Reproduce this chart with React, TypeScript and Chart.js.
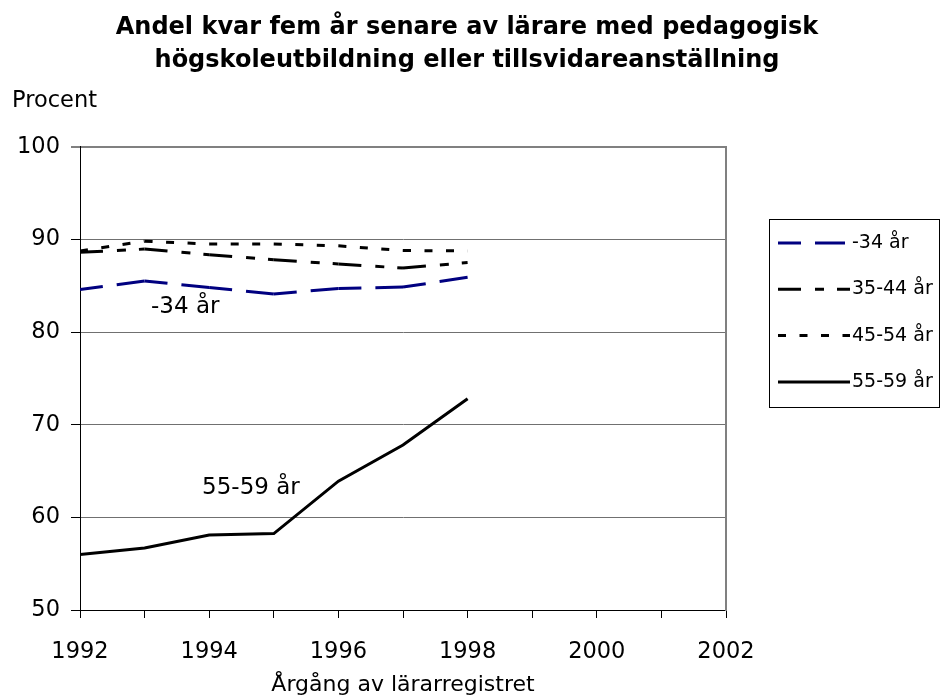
import React, { useEffect, useRef } from 'react';
import { Chart, registerables } from 'chart.js';

Chart.register(...registerables);

const FONT = "'DejaVu Sans', sans-serif";

const TITLE_LINES = [
  'Andel kvar fem år senare av lärare med pedagogisk',
  'högskoleutbildning eller tillsvidareanställning',
];
const Y_LABEL = 'Procent';
const X_LABEL = 'Årgång av lärarregistret';

const YEARS = [1992, 1993, 1994, 1995, 1996, 1997, 1998];
const SERIES_NAMES = ['-34 år', '35-44 år', '45-54 år', '55-59 år'];
const AGE_UNDER_34 = [84.6, 85.5, 84.8, 84.1, 84.7, 84.85, 85.9];
const AGE_35_44 = [88.6, 88.95, 88.35, 87.8, 87.35, 86.9, 87.5];
const AGE_45_54 = [88.75, 89.8, 89.5, 89.5, 89.3, 88.8, 88.75];
const AGE_55_59 = [56.0, 56.7, 58.1, 58.25, 63.9, 67.8, 72.8];

const X_MIN = 1992;
const X_MAX = 2002;
const Y_MIN = 50;
const Y_MAX = 100;

// in-plot labels, anchored in data units (left / alphabetic baseline)
const LABEL_TEXTS = ['-34 år', '55-59 år'];
const LABEL_X = [1993.1, 1993.89];
const LABEL_Y = [82.0, 62.5];

const toPoints = (vals: number[]) => YEARS.map((yr, i) => ({ x: yr, y: vals[i] }));

const textPlugin = {
  id: 'extraText',
  afterDraw(chart: any) {
    const { ctx, scales } = chart;
    ctx.save();
    ctx.fillStyle = '#000';
    ctx.textBaseline = 'alphabetic';
    ctx.textAlign = 'left';
    ctx.font = `22.5px ${FONT}`;
    ctx.fillText(Y_LABEL, 12, 106.5);
    ctx.font = `23px ${FONT}`;
    LABEL_TEXTS.forEach((t, i) => {
      ctx.fillText(t, scales.x.getPixelForValue(LABEL_X[i]), scales.y.getPixelForValue(LABEL_Y[i]));
    });
    // legend
    const boxL = 769.5, boxT = 219.5, boxW = 170, boxH = 188;
    ctx.strokeStyle = '#000';
    ctx.lineWidth = 1;
    ctx.setLineDash([]);
    ctx.strokeRect(boxL, boxT, boxW, boxH);
    ctx.font = `19px ${FONT}`;
    ctx.textBaseline = 'middle';
    chart.data.datasets.forEach((ds: any, i: number) => {
      const y = 243 + i * 46.3;
      ctx.beginPath();
      ctx.setLineDash(ds.borderDash || []);
      ctx.lineDashOffset = 0;
      ctx.strokeStyle = ds.borderColor;
      ctx.lineWidth = ds.borderWidth;
      ctx.lineCap = 'butt';
      ctx.moveTo(778, y);
      ctx.lineTo(850, y);
      ctx.stroke();
      ctx.setLineDash([]);
      ctx.fillStyle = '#000';
      ctx.fillText(ds.label, 852, y);
    });
    ctx.restore();
  },
};

export default function App() {
  const ref = useRef<HTMLCanvasElement | null>(null);

  useEffect(() => {
    if (!ref.current) return;
    const restart = { borderDashOffset: (c: any) => c.p0DataIndex * 0.001 };
    const chart = new Chart(ref.current, {
      type: 'line',
      data: {
        datasets: [
          {
            label: SERIES_NAMES[0],
            data: toPoints(AGE_UNDER_34),
            borderColor: '#000080',
            borderWidth: 3,
            borderDash: [23, 14, 30, 14],
            pointRadius: 0,
            segment: restart,
          },
          {
            label: SERIES_NAMES[1],
            data: toPoints(AGE_35_44),
            borderColor: '#000',
            borderWidth: 3,
            borderDash: [23, 14, 9, 13],
            pointRadius: 0,
            segment: restart,
          },
          {
            label: SERIES_NAMES[2],
            data: toPoints(AGE_45_54),
            borderColor: '#000',
            borderWidth: 3,
            borderDash: [8, 13.5],
            pointRadius: 0,
            segment: restart,
          },
          {
            label: SERIES_NAMES[3],
            data: toPoints(AGE_55_59),
            borderColor: '#000',
            borderWidth: 3,
            pointRadius: 0,
          },
        ],
      },
      options: {
        responsive: false,
        animation: false,
        layout: { padding: { left: 0, right: 6, top: 0, bottom: 0 } },
        plugins: {
          legend: { display: false },
          tooltip: { enabled: false },
          title: {
            display: true,
            text: TITLE_LINES,
            color: '#000',
            font: { family: FONT, size: 24, weight: 'bold', lineHeight: 1.375 },
            padding: { top: 11, bottom: 69.7 },
          },
        },
        scales: {
          x: {
            type: 'linear',
            min: X_MIN,
            max: X_MAX,
            afterFit: (s: any) => {
              s.height = 85;
            },
            ticks: {
              stepSize: 1,
              autoSkip: false,
              maxRotation: 0,
              padding: 21,
              color: '#000',
              font: { family: FONT, size: 22.5 },
              callback: (v: any) => (Number(v) % 2 === 0 ? String(v) : ''),
            },
            grid: {
              drawOnChartArea: false,
              drawTicks: true,
              tickLength: 8,
              tickColor: '#000',
              tickWidth: 1,
            },
            border: { color: '#000', width: 1 },
            title: {
              display: true,
              text: X_LABEL,
              color: '#000',
              font: { family: FONT, size: 22 },
              padding: { top: 0, bottom: -3 },
            },
          },
          y: {
            min: Y_MIN,
            max: Y_MAX,
            afterFit: (s: any) => {
              s.width = 80;
            },
            ticks: {
              stepSize: 10,
              padding: 11,
              color: '#000',
              font: { family: FONT, size: 22.5 },
            },
            grid: {
              color: (c: any) =>
                c.tick && c.tick.value === Y_MIN ? '#000' : c.tick && c.tick.value === Y_MAX ? '#808080' : '#707070',
              lineWidth: (c: any) => (c.tick && c.tick.value === Y_MAX ? 2 : 1),
              tickLength: 9,
              tickColor: '#000',
              tickWidth: 1,
            },
            border: { color: '#000', width: 1 },
          },
          y2: {
            position: 'right',
            min: Y_MIN,
            max: Y_MAX,
            afterFit: (s: any) => {
              s.width = 208;
            },
            ticks: { display: false },
            grid: { display: false, drawTicks: false },
            border: { display: true, color: '#808080', width: 2 },
          },
        },
      } as any,
      plugins: [textPlugin],
    });
    return () => chart.destroy();
  }, []);

  return (
    <div style={{ position: 'absolute', left: 0, top: 0, width: 940, height: 695, background: '#fff' }}>
      <canvas ref={ref} width={940} height={695} style={{ display: 'block' }} />
    </div>
  );
}
